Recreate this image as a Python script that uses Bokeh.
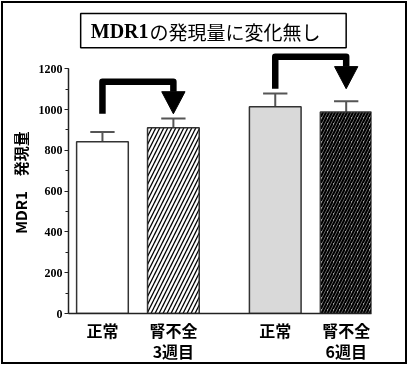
from bokeh.plotting import figure
from bokeh.models import Range1d, FixedTicker, SingleIntervalTicker, ColumnDataSource
from bokeh.core.properties import value
from bokeh.embed import file_html
from bokeh.resources import INLINE

# ---- data ----
categories = ["正常", "腎不全\n3週目", "正常", "腎不全\n6週目"]
values = [842, 911, 1013, 988]
errors = [48, 45, 66, 53]
fills = ["white", "white", "#d9d9d9", "#a6a6a6"]
hatches = [" ", "/", " ", "/"]
hatch_colors = ["black", "black", "black", "black"]
hatch_scales = [8, 8, 8, 6]
hatch_weights = [1.3, 1.3, 1.3, 2.2]
title_main = "MDR1"
title_rest = "の発現量に変化無し"
y_label = "MDR1　発現量"
y_axis_max = 1200
pairs = [(0, 1), (2, 3)]

# ---- layout (pixels) ----
OX, OY = 3, 3                          # canvas origin in page pixels
W, H = 402, 359
IMG_FL, IMG_FR, IMG_FT, IMG_FB = 68, 367, 6, 312
FL, FR, FT, FB = IMG_FL - OX, IMG_FR - OX, IMG_FT - OY, IMG_FB - OY
SLOT = 70.0                            # px per category slot
GROUP_GAP = 0.436
Y_PX = 244 / 1200                      # px per data unit
xs = [i + GROUP_GAP * (i // 2) for i in range(len(values))]
x_start = -33.5 / SLOT
x_end = x_start + (FR - FL) / SLOT
y_end = (FB - FT) / Y_PX

def dx(px):
    return x_start + (px - IMG_FL) / SLOT

def dy(py):
    return (IMG_FB - py) / Y_PX

p = figure(width=W, height=H, output_backend="svg", toolbar_location=None,
           x_range=Range1d(x_start, x_end), y_range=Range1d(0, y_end),
           min_border_left=FL, min_border_right=W - FR,
           min_border_top=FT, min_border_bottom=H - FB,
           styles={"position": "fixed", "left": "1px", "top": "1px",
                   "box-sizing": "content-box",
                   "border": "2px solid black"})
p.outline_line_color = None
p.xgrid.visible = False
p.ygrid.visible = False
p.background_fill_color = "white"
p.border_fill_color = "white"

# title box
p.quad(left=[dx(80)], right=[dx(342)], top=[dy(13)], bottom=[dy(47)],
       fill_color="white", line_color="black", line_width=1.5)
p.text(x=[dx(90)], y=[dy(30.5)], text=[title_main], text_font=value("Liberation Serif"),
       text_font_style="bold", text_font_size="20px", text_align="left",
       text_baseline="middle", text_color="black")
p.text(x=[dx(148)], y=[dy(30.5)], text=[title_rest], text_font=value("Noto Sans CJK JP"),
       text_font_size="19px", text_align="left", text_baseline="middle",
       text_color="black")

# error bars
tops = [v + e for v, e in zip(values, errors)]
cap = 24 / SLOT
p.segment(x0=xs, y0=values, x1=xs, y1=tops, line_color="#555555", line_width=2)
p.segment(x0=[x - cap / 2 for x in xs], y0=tops, x1=[x + cap / 2 for x in xs], y1=tops,
          line_color="#555555", line_width=2)

# bars
src = ColumnDataSource(dict(x=xs, top=values, fill=fills, hatch=hatches, hc=hatch_colors,
                            hs=hatch_scales, hw=hatch_weights))
p.vbar(x="x", top="top", bottom=0, width=51 / SLOT, source=src,
       fill_color="fill", line_color="#333333", line_width=1.5,
       hatch_pattern="hatch", hatch_color="hc", hatch_scale="hs",
       hatch_weight="hw")

# arrows
head_h = 22 / Y_PX
head_w = 23 / SLOT
lx, ly, tx, ty = [], [], [], []
for a, b in pairs:
    base = max(tops[a], tops[b]) + 23
    top = base + 157
    lx.append([xs[a], xs[a], xs[b], xs[b]])
    ly.append([base, top, top, base + head_h])
    tx.append([xs[b] - head_w / 2, xs[b] + head_w / 2, xs[b]])
    ty.append([base + head_h, base + head_h, base])
p.multi_line(xs=lx, ys=ly, line_color="black", line_width=6.5, line_join="round")
p.patches(xs=tx, ys=ty, fill_color="black", line_color="black", line_width=1)

# axes
p.xaxis.ticker = FixedTicker(ticks=xs)
p.xaxis.major_label_overrides = {x: c for x, c in zip(xs, categories)}
p.xaxis.major_tick_out = 0
p.xaxis.major_tick_in = 0
p.xaxis.minor_tick_out = 0
p.xaxis.minor_tick_in = 0
p.xaxis.axis_line_color = "#222222"
p.xaxis.axis_line_width = 1.5
p.xaxis.major_label_text_font = "Noto Sans CJK JP"
p.xaxis.major_label_text_font_style = "bold"
p.xaxis.major_label_text_font_size = "16px"
p.xaxis.major_label_text_color = "black"
p.xaxis.major_label_text_line_height = 0.9
p.xaxis.major_label_standoff = 4

p.yaxis.bounds = (0, y_axis_max)
p.yaxis.ticker = SingleIntervalTicker(interval=200, num_minor_ticks=2)
p.yaxis.axis_line_color = "#222222"
p.yaxis.axis_line_width = 1.5
p.yaxis.major_tick_out = 4
p.yaxis.major_tick_in = 0
p.yaxis.minor_tick_out = 3
p.yaxis.minor_tick_in = 0
p.yaxis.major_tick_line_color = "#222222"
p.yaxis.minor_tick_line_color = "#222222"
p.yaxis.major_label_text_font = "Liberation Serif"
p.yaxis.major_label_text_font_style = "bold"
p.yaxis.major_label_text_font_size = "12px"
p.yaxis.major_label_text_color = "black"
p.yaxis.major_label_standoff = 2
# trailing ideographic spaces shift the visible label toward the bottom,
# as the frame (which the label centres on) reaches above the axis range
p.yaxis.axis_label = y_label + "\u3000\u3000\u3000"
p.yaxis.axis_label_text_font = "Noto Sans CJK JP"
p.yaxis.axis_label_text_font_style = "bold"
p.yaxis.axis_label_text_font_size = "15px"
p.yaxis.axis_label_text_color = "black"
p.yaxis.axis_label_standoff = 5

open("out.html", "w").write(file_html(p, INLINE))
